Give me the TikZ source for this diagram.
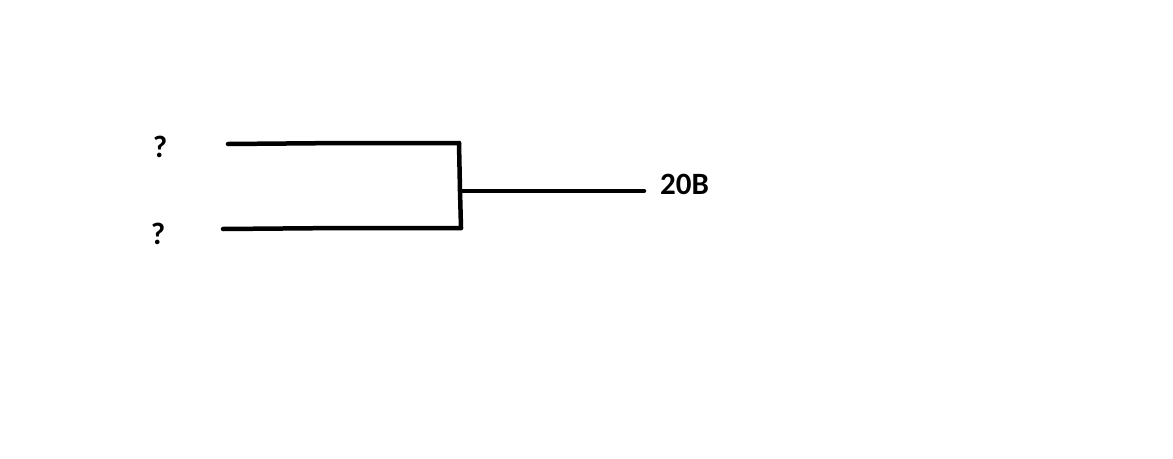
\documentclass[tikz,border=0pt]{standalone}
\usepackage{fontspec}
\setmainfont{Carlito}
\begin{document}
\begin{tikzpicture}[x=1pt,y=-1pt,
  lbl/.style={font=\bfseries\fontsize{31}{36}\selectfont, inner sep=0pt},
  wire/.style={line width=4.5pt, line cap=round}]
\useasboundingbox (0,0) rectangle (1173,458);
\node[lbl] (q1) at (160,147) {?};
\node[lbl] (q2) at (158,234) {?};
\node[lbl, anchor=west] (out) at (660,184) {20B};
\coordinate (a1) at (228,144);
\coordinate (a2) at (344,143);
\coordinate (a3) at (459,143);
\coordinate (b1) at (223,229);
\coordinate (b2) at (342,228);
\coordinate (b3) at (461,228);
\coordinate (m1) at (460,191);
\coordinate (m2) at (644,191);
\draw[wire] (a1) -- (a2) -- (a3);
\draw[wire] (b1) -- (b2) -- (b3);
\draw[wire] (a3) -- (m1) -- (b3);
\draw[wire] (m1) -- (m2);
\end{tikzpicture}
\end{document}
